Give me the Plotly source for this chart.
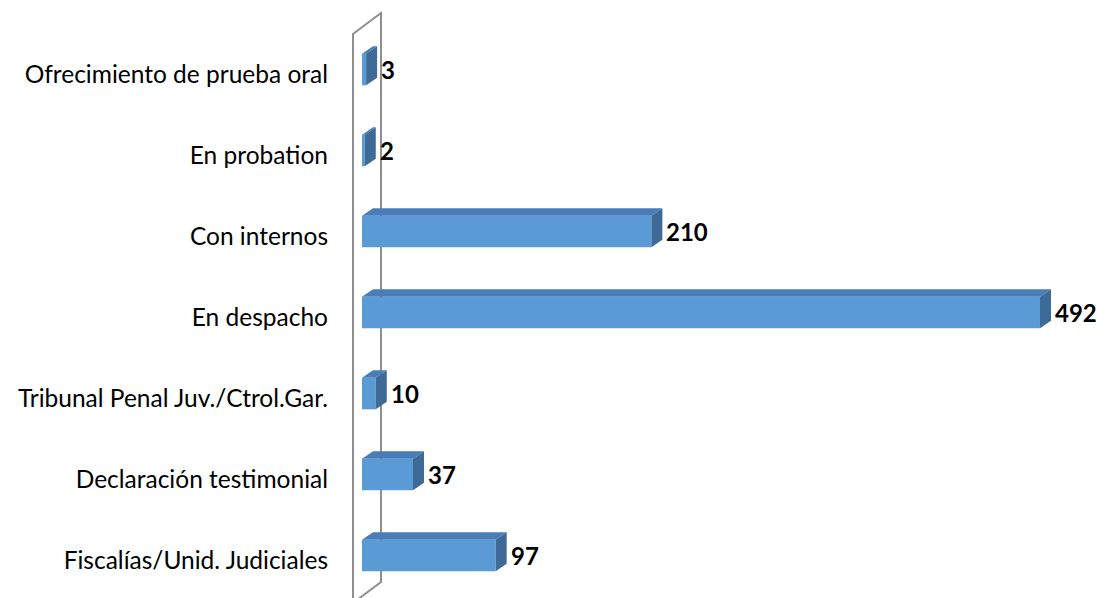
import plotly.graph_objects as go

# ---- data ----
categories = [
    "Fiscalías/Unid. Judiciales",
    "Declaración testimonial",
    "Tribunal Penal Juv./Ctrol.Gar.",
    "En despacho",
    "Con internos",
    "En probation",
    "Ofrecimiento de prueba oral",
]
values = [97, 37, 10, 492, 210, 2, 3]

# ---- layout geometry (pixels) ----
W, H = 1098, 598
ML = 340
PX_PER_UNIT = 1.378        # horizontal scale
X0_PX = 362                # pixel of value 0
PX_PER_CAT = 81.0          # vertical spacing
Y0_PX = 560                # pixel of category index 0

x_range = [(ML - X0_PX) / PX_PER_UNIT, (W - X0_PX) / PX_PER_UNIT]
y_range = [(Y0_PX - H) / PX_PER_CAT, Y0_PX / PX_PER_CAT]

def px2x(px):
    return (px - X0_PX) / PX_PER_UNIT

def px2y(py):
    return (Y0_PX - py) / PX_PER_CAT

# 3D depth offsets in data units
DX = 11 / PX_PER_UNIT
DY = 7.5 / PX_PER_CAT
BAR_W = 0.39
BAR_OFF = -0.14

FRONT = "#5B9BD5"
TOP = "#4A7DB8"
SIDE = "#3D6A96"
WALL = "#8F8F8F"

idx = list(range(len(categories)))

fig = go.Figure()
fig.add_trace(go.Bar(
    x=values, y=idx, orientation="h",
    width=BAR_W, offset=BAR_OFF,
    marker=dict(color=FRONT, line=dict(width=0)),
    hoverinfo="x+text", hovertext=categories,
))

shapes = []
# side wall (3D frame)
wf, wb = px2x(353), px2x(381)
top_f, top_b = px2y(34), px2y(13)
bot_b = px2y(582)
bot_f = bot_b - (top_b - top_f)
wall_path = f"M {wf},{bot_f} L {wf},{top_f} L {wb},{top_b} L {wb},{bot_b} Z"
shapes.append(dict(type="path", path=wall_path, xref="x", yref="y",
                   line=dict(color=WALL, width=2), fillcolor="rgba(0,0,0,0)",
                   layer="below"))

for i, v in zip(idx, values):
    yb = i + BAR_OFF
    yt = yb + BAR_W
    top = f"M 0,{yt} L {v},{yt} L {v+DX},{yt+DY} L {DX},{yt+DY} Z"
    side = f"M {v},{yb} L {v},{yt} L {v+DX},{yt+DY} L {v+DX},{yb+DY} Z"
    shapes.append(dict(type="path", path=top, xref="x", yref="y",
                       fillcolor=TOP, line=dict(width=0), layer="above"))
    shapes.append(dict(type="path", path=side, xref="x", yref="y",
                       fillcolor=SIDE, line=dict(width=0), layer="above"))

annotations = []
for i, v in zip(idx, values):
    annotations.append(dict(
        x=v + DX, y=i + BAR_OFF + BAR_W / 2, xref="x", yref="y",
        text=f"<b>{v}</b>", showarrow=False, xanchor="left", yanchor="middle",
        xshift=2, font=dict(family="Lato", size=24, color="#000000"),
    ))

fig.update_layout(
    width=W, height=H,
    margin=dict(l=ML, r=0, t=0, b=0),
    paper_bgcolor="white", plot_bgcolor="white",
    showlegend=False,
    shapes=shapes, annotations=annotations,
    xaxis=dict(range=x_range, visible=False, fixedrange=True),
    yaxis=dict(range=y_range, tickmode="array", tickvals=idx, ticktext=categories,
               showgrid=False, zeroline=False, showline=False, ticks="",
               ticklabelstandoff=11,
               tickfont=dict(family="Lato", size=24.5, color="#000000"),
               fixedrange=True),
)

fig.write_html(
    "out.html",
    config={"displayModeBar": False},
    post_script="document.body.style.margin='0';"
                "document.documentElement.style.overflow='hidden';",
)
